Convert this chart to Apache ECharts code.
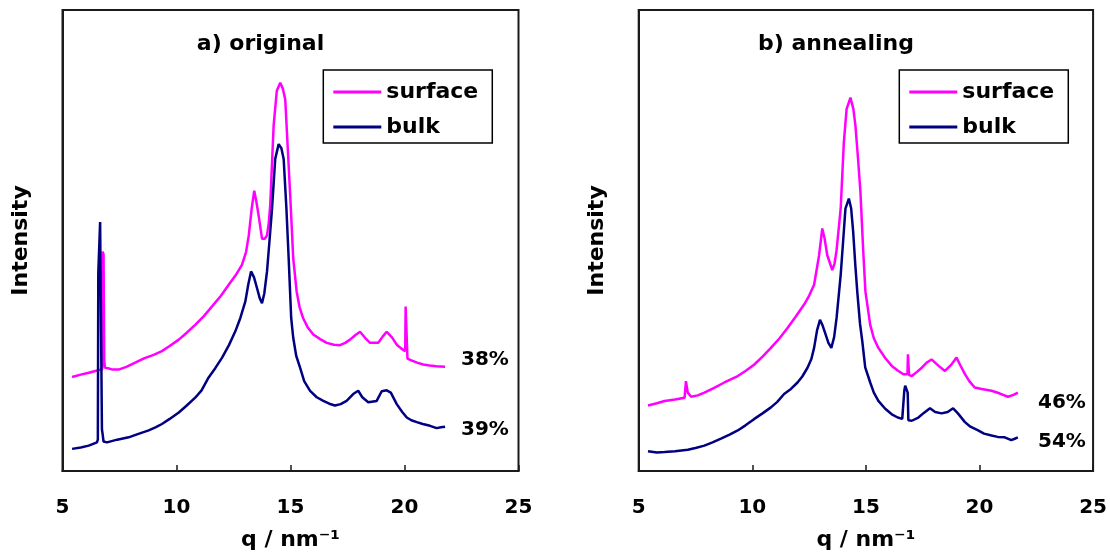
<!DOCTYPE html>
<html>
<head>
<meta charset="utf-8">
<script src="https://cdn.jsdelivr.net/npm/echarts@6/dist/echarts.min.js"></script>
<style>
html,body{margin:0;padding:0;background:#fff;}
#chart{width:1110px;height:556px;}
</style>
</head>
<body>
<div id="chart"></div>
<script>
// ---- data (q in nm^-1, intensity in arbitrary units) ----
const panelTitles = ['a) original', 'b) annealing'];
const seriesNames = ['surface', 'bulk'];
const xTicks = [5, 10, 15, 20, 25];
const percentLabels = [['38%', '39%'], ['46%', '54%']];

const origSurface = [[5.42,20.4],[5.8,20.9],[6.15,21.3],[6.44,21.7],[6.6,21.9],[6.74,22.0],[6.76,47.6],[6.80,47.0],[6.83,24.0],[6.86,22.4],[7.0,22.3],[7.2,22.0],[7.46,22.0],[7.8,22.6],[8.19,23.5],[8.6,24.5],[9.0,25.2],[9.36,26.0],[9.7,27.1],[10.1,28.5],[10.45,30.0],[10.82,31.7],[11.2,33.6],[11.56,35.7],[11.95,38.0],[12.29,40.4],[12.6,42.5],[12.87,44.7],[13.05,47.5],[13.17,51.1],[13.3,57.0],[13.41,60.8],[13.5,58.5],[13.6,55.5],[13.75,50.4],[13.87,50.4],[13.97,51.1],[14.05,54.0],[14.11,57.6],[14.2,68.0],[14.26,74.9],[14.4,82.5],[14.55,84.2],[14.66,83.0],[14.77,80.6],[14.88,70.0],[14.99,59.5],[15.12,46.1],[15.27,38.9],[15.4,35.5],[15.55,33.2],[15.75,31.2],[16.0,29.6],[16.3,28.6],[16.59,27.8],[16.9,27.4],[17.17,27.3],[17.4,27.8],[17.61,28.5],[17.85,29.5],[18.05,30.2],[18.25,29.0],[18.49,27.8],[18.85,27.8],[19.05,29.2],[19.22,30.2],[19.45,29.0],[19.66,27.4],[19.85,26.6],[20.03,26.0],[20.05,35.7],[20.10,35.5],[20.13,24.4],[20.3,24.0],[20.55,23.5],[20.82,23.1],[21.1,22.9],[21.4,22.7],[21.78,22.6]];

const origBulk = [[5.42,4.8],[5.8,5.1],[6.15,5.5],[6.4,6.0],[6.51,6.2],[6.55,6.8],[6.57,43.0],[6.63,43.0],[6.65,54.0],[6.71,54.0],[6.73,9.0],[6.76,8.0],[6.80,6.4],[6.95,6.2],[7.4,6.8],[7.9,7.3],[8.3,8.0],[8.78,8.8],[9.1,9.5],[9.36,10.2],[9.7,11.3],[10.1,12.7],[10.45,14.2],[10.82,15.9],[11.1,17.5],[11.41,20.3],[11.7,22.3],[12.0,24.6],[12.3,27.3],[12.58,30.3],[12.8,33.2],[13.02,36.8],[13.15,40.5],[13.27,43.3],[13.4,42.0],[13.53,39.7],[13.65,37.5],[13.75,36.4],[13.85,38.5],[13.97,43.3],[14.08,50.0],[14.19,56.9],[14.33,67.7],[14.48,70.9],[14.6,70.0],[14.7,67.7],[14.82,57.0],[14.92,46.1],[15.03,33.2],[15.12,28.9],[15.25,25.0],[15.42,22.4],[15.6,19.5],[15.86,17.4],[16.15,16.0],[16.44,15.2],[16.7,14.6],[16.95,14.2],[17.2,14.5],[17.46,15.2],[17.75,16.7],[17.97,17.4],[18.15,16.0],[18.41,14.9],[18.78,15.2],[19.0,17.3],[19.22,17.5],[19.4,17.0],[19.66,14.5],[19.9,12.8],[20.1,11.6],[20.3,11.0],[20.54,10.6],[20.8,10.2],[21.12,9.8],[21.41,9.3],[21.6,9.5],[21.78,9.6]];

const annSurface = [[5.41,14.2],[5.8,14.7],[6.14,15.2],[6.6,15.5],[7.02,15.9],[7.08,19.5],[7.13,19.3],[7.16,17.0],[7.31,16.1],[7.6,16.4],[7.89,17.0],[8.3,18.0],[8.77,19.2],[9.36,20.6],[9.7,21.7],[10.09,23.1],[10.45,24.8],[10.82,26.7],[11.2,28.8],[11.55,31.0],[11.9,33.4],[12.28,36.1],[12.5,38.0],[12.72,40.4],[12.94,46.8],[13.08,52.6],[13.18,50.5],[13.3,46.8],[13.52,43.6],[13.62,45.0],[13.71,47.9],[13.89,56.9],[14.03,71.3],[14.15,78.5],[14.32,81.0],[14.45,78.5],[14.54,74.9],[14.65,68.0],[14.76,60.5],[14.88,48.0],[14.98,38.9],[15.19,31.7],[15.35,28.8],[15.55,26.7],[15.85,24.5],[16.14,22.8],[16.4,21.8],[16.65,21.0],[16.83,21.0],[16.85,25.3],[16.88,25.3],[16.9,20.8],[17.02,20.6],[17.25,21.5],[17.46,22.4],[17.7,23.6],[17.89,24.2],[18.2,22.8],[18.48,21.7],[18.75,23.0],[18.99,24.6],[19.15,23.0],[19.36,21.0],[19.55,19.5],[19.79,18.1],[20.1,17.8],[20.53,17.4],[20.9,16.8],[21.25,16.1],[21.5,16.5],[21.69,17.0]];

const annBulk = [[5.41,4.3],[5.8,4.0],[6.14,4.1],[6.6,4.3],[7.16,4.6],[7.5,5.0],[7.89,5.5],[8.25,6.2],[8.62,7.0],[9.0,7.9],[9.36,8.8],[9.7,9.9],[10.09,11.3],[10.45,12.5],[10.82,13.8],[11.1,15.0],[11.4,16.7],[11.7,17.8],[11.99,19.2],[12.2,20.5],[12.43,22.4],[12.6,24.3],[12.72,26.7],[12.85,30.5],[12.98,32.8],[13.1,31.5],[13.23,29.6],[13.35,27.8],[13.48,26.7],[13.6,29.0],[13.71,33.2],[13.89,42.5],[14.0,50.0],[14.1,56.9],[14.25,59.1],[14.35,57.0],[14.44,51.9],[14.53,45.0],[14.62,38.9],[14.74,32.0],[14.84,28.2],[14.97,22.5],[15.19,19.2],[15.35,17.0],[15.55,15.2],[15.85,13.5],[16.14,12.3],[16.4,11.6],[16.6,11.3],[16.67,11.0],[16.69,17.4],[16.73,18.5],[16.8,18.5],[16.84,17.0],[16.87,11.0],[17.02,10.9],[17.31,11.6],[17.55,12.6],[17.82,13.6],[18.05,12.8],[18.33,12.5],[18.6,12.8],[18.84,13.6],[19.05,12.5],[19.36,10.6],[19.6,9.6],[19.94,8.8],[20.2,8.1],[20.53,7.7],[20.8,7.4],[21.11,7.3],[21.4,6.7],[21.55,7.0],[21.69,7.3]];

// ---- chart ----
const FONT = '"DejaVu Sans", sans-serif';
const colors = { surface: '#ff00ff', bulk: '#000080' };
const chart = echarts.init(document.getElementById('chart'), null, { renderer: 'canvas' });

const gridLefts = [62.5, 638.7];
const legendLefts = [323.3, 899.3];

function xAxisFor(i) {
  return {
    type: 'value', gridIndex: i, min: xTicks[0], max: xTicks[xTicks.length - 1], interval: 5,
    axisLine: { show: true, lineStyle: { color: '#1a1a1a', width: 2 } },
    axisTick: { show: true, inside: true, length: 6, lineStyle: { color: '#1a1a1a', width: 1.5 } },
    splitLine: { show: false },
    axisLabel: { fontFamily: FONT, fontWeight: 'bold', fontSize: 20, color: '#000', margin: 27 },
    name: 'q / nm\u207B\u00B9', nameLocation: 'middle', nameGap: 58,
    nameTextStyle: { fontFamily: FONT, fontWeight: 'bold', fontSize: 22, color: '#000' }
  };
}
function yAxisFor(i) {
  return {
    type: 'value', gridIndex: i, min: 0, max: 100,
    axisLine: { show: true, lineStyle: { color: '#1a1a1a', width: 2 } },
    axisTick: { show: false }, axisLabel: { show: false }, splitLine: { show: false },
    name: 'Intensity', nameLocation: 'middle', nameGap: 30,
    nameTextStyle: { fontFamily: FONT, fontWeight: 'bold', fontSize: 22, color: '#000' }
  };
}
function legendFor(i) {
  return {
    left: legendLefts[i], top: 70, orient: 'vertical',
    data: seriesNames, icon: 'rect', itemWidth: 48, itemHeight: 3, itemGap: 13,
    padding: [11, 14, 5, 10], borderColor: '#000', borderWidth: 1.5,
    selectedMode: false,
    textStyle: { fontFamily: FONT, fontWeight: 'bold', fontSize: 22, color: '#000', lineHeight: 22 }
  };
}
function lineSeries(name, data, i) {
  return {
    type: 'line', name: name, data: data, xAxisIndex: i, yAxisIndex: i,
    showSymbol: false, symbol: 'none', smooth: false,
    lineStyle: { color: colors[name], width: 2.5 },
    itemStyle: { color: colors[name] },
    z: name === 'bulk' ? 3 : 2
  };
}

const textStyleBase = { fontFamily: FONT, fontWeight: 'bold', fill: '#000' };
const graphics = [
  { type: 'text', x: 260.5, y: 44.5, style: Object.assign({ text: panelTitles[0], fontSize: 22, align: 'center', verticalAlign: 'middle' }, textStyleBase) },
  { type: 'text', x: 836, y: 44.5, style: Object.assign({ text: panelTitles[1], fontSize: 22, align: 'center', verticalAlign: 'middle' }, textStyleBase) },
  { type: 'text', x: 461, y: 360, style: Object.assign({ text: percentLabels[0][0], fontSize: 20, align: 'left', verticalAlign: 'middle' }, textStyleBase) },
  { type: 'text', x: 461, y: 430, style: Object.assign({ text: percentLabels[0][1], fontSize: 20, align: 'left', verticalAlign: 'middle' }, textStyleBase) },
  { type: 'text', x: 1038, y: 403, style: Object.assign({ text: percentLabels[1][0], fontSize: 20, align: 'left', verticalAlign: 'middle' }, textStyleBase) },
  { type: 'text', x: 1038, y: 442, style: Object.assign({ text: percentLabels[1][1], fontSize: 20, align: 'left', verticalAlign: 'middle' }, textStyleBase) }
];

const option = {
  animation: false,
  backgroundColor: '#fff',
  grid: [0, 1].map(i => ({
    left: gridLefts[i], top: 10, width: 456, height: 464,
    show: true, borderColor: '#1a1a1a', borderWidth: 2, backgroundColor: 'transparent',
    containLabel: false
  })),
  xAxis: [xAxisFor(0), xAxisFor(1)],
  yAxis: [yAxisFor(0), yAxisFor(1)],
  legend: [legendFor(0), legendFor(1)],
  series: [
    lineSeries('surface', origSurface, 0),
    lineSeries('bulk', origBulk, 0),
    lineSeries('surface', annSurface, 1),
    lineSeries('bulk', annBulk, 1)
  ],
  graphic: graphics
};
chart.setOption(option);
</script>
</body>
</html>
